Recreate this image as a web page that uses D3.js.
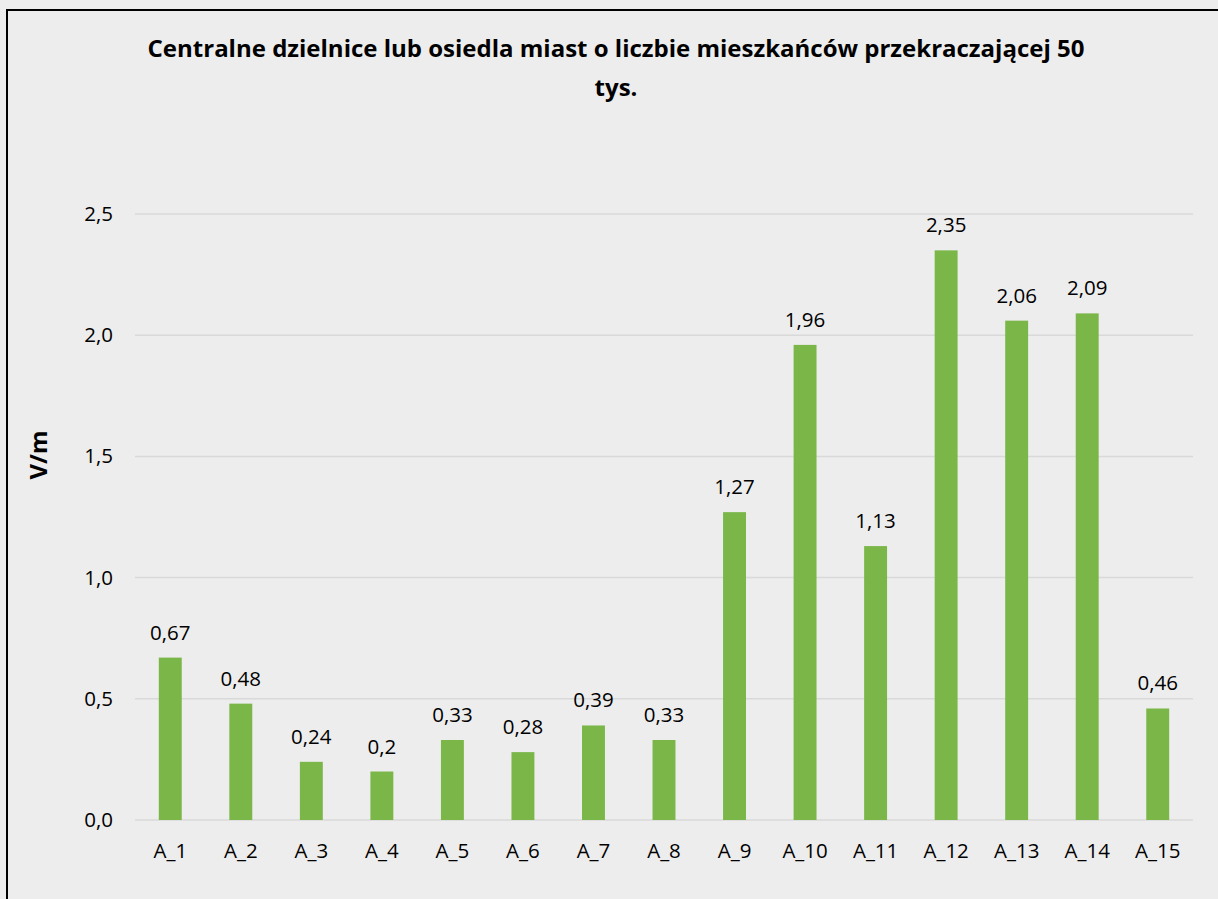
<!DOCTYPE html>
<html>
<head>
<meta charset="utf-8">
<script src="https://cdn.jsdelivr.net/npm/d3@7"></script>
<style>
  body { margin: 0; background: #ededed; }
  svg { display: block; }
  text { font-family: "Open Sans", "Noto Sans", sans-serif; fill: #000; }
</style>
</head>
<body>
<div id="chart"></div>
<script>
const W = 1218, H = 899;
const MARGIN = { top: 214, right: 25, bottom: 79, left: 135 };
const TITLE = ["Centralne dzielnice lub osiedla miast o liczbie mieszkańców przekraczającej 50", "tys."];

const categories = ["A_1","A_2","A_3","A_4","A_5","A_6","A_7","A_8","A_9","A_10","A_11","A_12","A_13","A_14","A_15"];
const values = [0.67,0.48,0.24,0.2,0.33,0.28,0.39,0.33,1.27,1.96,1.13,2.35,2.06,2.09,0.46];
const yTicks = [0, 0.5, 1.0, 1.5, 2.0, 2.5];

const svg = d3.select("#chart").append("svg").attr("width", W).attr("height", H);

svg.append("rect").attr("width", W).attr("height", H).attr("fill", "#ededed");
// frame (right and bottom edges run off the page)
svg.append("rect")
  .attr("x", 7).attr("y", 10).attr("width", W + 20).attr("height", H + 20)
  .attr("fill", "none").attr("stroke", "#000").attr("stroke-width", 2);

const width = W - MARGIN.left - MARGIN.right;
const height = H - MARGIN.top - MARGIN.bottom;

// title
svg.append("g").selectAll("text")
  .data(TITLE)
  .join("text")
  .attr("x", 616)
  .attr("y", (d, i) => 57 + i * 39)
  .attr("text-anchor", "middle")
  .style("font-weight", "bold")
  .style("font-size", "24px")
  .text(d => d);

const g = svg.append("g").attr("transform", `translate(${MARGIN.left},${MARGIN.top})`);

const x = d3.scaleBand().domain(categories).range([0, width]).paddingInner(0.675).paddingOuter(0.3375);
const y = d3.scaleLinear().domain([0, 2.5]).range([height, 0]);
const fmt = v => d3.format(".1f")(v).replace(".", ",");
const fmtLabel = v => String(v).replace(".", ",");

// gridlines
g.append("g").selectAll("line")
  .data(yTicks)
  .join("line")
  .attr("x1", 0).attr("x2", width)
  .attr("y1", d => y(d)).attr("y2", d => y(d))
  .attr("stroke", "#d9d9d9").attr("stroke-width", 1.5);

// y axis
const yAxis = g.append("g")
  .call(d3.axisLeft(y).tickValues(yTicks).tickFormat(fmt).tickSize(0).tickPadding(22));
yAxis.select(".domain").remove();
yAxis.selectAll("text").style("font-size", "20.5px").style("font-family", "'Open Sans', sans-serif").attr("fill", "#000");

// x axis
const xAxis = g.append("g").attr("transform", `translate(0,${height})`)
  .call(d3.axisBottom(x).tickSize(0).tickPadding(23));
xAxis.select(".domain").remove();
xAxis.selectAll("text").style("font-size", "20.5px").style("font-family", "'Open Sans', sans-serif").attr("fill", "#000");

// bars
g.append("g").selectAll("rect")
  .data(values)
  .join("rect")
  .attr("x", (d, i) => x(categories[i]))
  .attr("y", d => y(d))
  .attr("width", x.bandwidth())
  .attr("height", d => height - y(d))
  .attr("fill", "#7ab648");

// value labels
g.append("g").selectAll("text")
  .data(values)
  .join("text")
  .attr("x", (d, i) => x(categories[i]) + x.bandwidth() / 2)
  .attr("y", d => y(d) - 18)
  .attr("text-anchor", "middle")
  .style("font-size", "20.5px")
  .text(d => fmtLabel(d));

// y axis title
svg.append("text")
  .attr("transform", "translate(47,455) rotate(-90)")
  .attr("text-anchor", "middle")
  .style("font-weight", "bold")
  .style("font-size", "24px")
  .text("V/m");
</script>
</body>
</html>
